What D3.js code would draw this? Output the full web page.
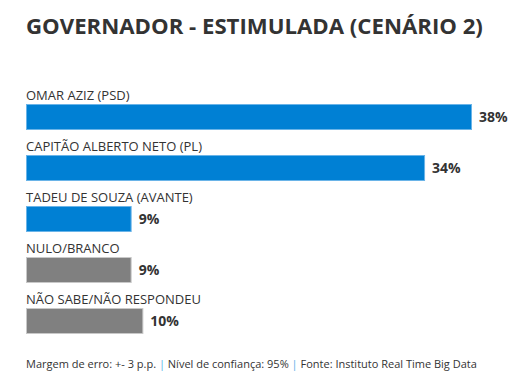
<!DOCTYPE html>
<html>
<head>
<meta charset="utf-8">
<script src="https://cdn.jsdelivr.net/npm/d3@7"></script>
<style>
  body { margin: 0; background: #fff; }
  svg text { font-family: "Open Sans", "Noto Sans", sans-serif; }
</style>
</head>
<body>
<svg id="chart" width="522" height="379"></svg>
<script>
const categories = ['OMAR AZIZ (PSD)', 'CAPITÃO ALBERTO NETO (PL)', 'TADEU DE SOUZA (AVANTE)', 'NULO/BRANCO', 'NÃO SABE/NÃO RESPONDEU'];
const values = [38, 34, 9, 9, 10];
const barColors = ['#0080d4', '#0080d4', '#0080d4', '#808080', '#808080'];
const titleText = 'GOVERNADOR - ESTIMULADA (CENÁRIO 2)';
const footerParts = ['Margem de erro: +- 3 p.p. ', ' Nível de confiança: 95% ', ' Fonte: Instituto Real Time Big Data'];

const margin = {left: 26, top: 86, rowHeight: 51};

const svg = d3.select('#chart');

const xScale = d3.scaleLinear().domain([0, 38]).range([margin.left, 472]);
const yScale = d3.scaleBand().domain(categories).range([margin.top, margin.top + margin.rowHeight * categories.length]);

// title
svg.append('text')
  .attr('x', 26)
  .attr('y', 34)
  .attr('font-size', 22.2)
  .attr('font-weight', 700)
  .attr('fill', '#333')
  .text(titleText);

const rows = svg.selectAll('.row')
  .data(categories)
  .enter()
  .append('g')
    .attr('class', 'row')
    .attr('transform', d => `translate(0, ${yScale(d)})`);

rows.append('text')
  .attr('x', margin.left)
  .attr('y', 14)
  .attr('font-size', 13)
  .attr('fill', '#333')
  .text(d => d);

rows.append('rect')
  .attr('x', xScale(0) + 0.5)
  .attr('y', 18.5)
  .attr('width', (d, i) => xScale(values[i]) - xScale(0) - 1)
  .attr('height', 25)
  .attr('fill', (d, i) => barColors[i])
  .attr('stroke', (d, i) => i < 3 ? '#6ab4e8' : '#c8c8c8')
  .attr('stroke-width', 1);

rows.append('text')
  .attr('x', (d, i) => xScale(values[i]) + 7)
  .attr('y', 36)
  .attr('font-size', 14)
  .attr('font-weight', 700)
  .attr('fill', '#333')
  .text((d, i) => values[i] + '%');

// footer
const footer = svg.append('text')
  .attr('x', 26)
  .attr('y', 368)
  .attr('font-size', 11)
  .attr('fill', '#333');

footerParts.forEach((part, i) => {
  if (i > 0) footer.append('tspan').attr('fill', '#5aaee6').text('|');
  footer.append('tspan').text(part);
});
</script>
</body>
</html>
